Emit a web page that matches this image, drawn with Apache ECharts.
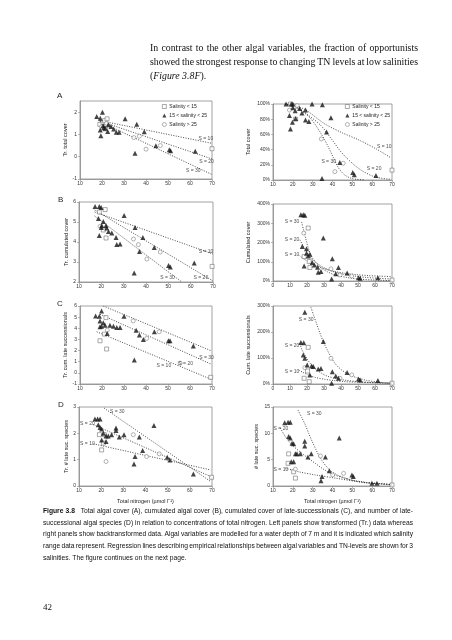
<!DOCTYPE html>
<html><head><meta charset="utf-8">
<script src="https://cdn.jsdelivr.net/npm/echarts@6/dist/echarts.min.js"></script>
<style>html,body{margin:0;padding:0;background:#fff}#c{width:452px;height:640px}</style>
</head><body><div id="c"></div>
<script>
// ---------- DATA ----------
const legendNames = ['Salinity < 15', '15 < salinity < 25', 'Salinity > 25'];
// Panel A left: Tr. total cover
const aL_sq = [[19.0,1.45],[20.5,1.52],[21.2,1.62],[22.3,1.7],[21.5,1.25],[70,0.36]];
const aL_tri = [[17.6,1.8],[19.2,1.73],[20.2,2.0],[19.5,0.94],[19.2,1.2],[20.5,1.4],[21.5,1.28],[22.6,1.13],[22.9,1.43],[24.1,1.36],[25.3,1.24],[26.5,1.1],[27.8,1.1],[30.5,1.7],[35.8,1.46],[35.0,0.16],[39.2,1.12],[44.5,0.49],[50.6,0.31],[51.2,0.27],[62.4,0.24],[20.8,1.3]];
const aL_cir = [[19.8,1.35],[22,1.5],[34.5,0.86],[37,0.92],[40,0.34],[46.5,0.5]];
const aL_s10 = [[19,1.62],[70,0.6]];
const aL_s20 = [[19,1.6],[70,-0.1]];
const aL_s30 = [[19,1.58],[70,-0.8]];
const aL_lab = [[63.9,0.82,'S = 10'],[64.2,-0.21,'S = 20'],[58.2,-0.63,'S = 30']];
// Panel A right: Total cover (%)
const aR_sq = [[18.8,100],[21.4,80],[21.2,97],[70,13]];
const aR_tri = [[16.6,100],[19.2,100],[20,100],[18.3,85],[18.8,67],[20,95],[21.2,91],[21.4,81],[23.4,94],[24.6,88],[26.4,92],[26.4,79],[28.1,77],[29.7,100],[34.9,99],[39.2,82],[37,63],[34.7,2],[43.7,23],[50.2,10],[51,7],[61.9,6],[19.8,76]];
const aR_cir = [[18.3,92],[22.2,98],[34.4,54],[41.2,11],[45.4,22]];
const aR_s10 = [[16,100],[20,98],[26,93],[36,74],[45,62],[53,53],[62,41],[69.5,29]];
const aR_s20 = [[16,100],[22,96],[28,85],[34.4,71],[40,52],[44.6,36],[50,22],[55,12],[61.5,4],[69,1]];
const aR_s30 = [[16,100],[22,95],[26,88],[29.3,80],[34,62],[37.8,44],[40.5,29],[43,16],[46,7],[49.7,2],[56,0]];
const aR_lab = [[62.4,44,'S = 10'],[57.3,15,'S = 20'],[34.4,24,'S = 30']];
// Panel B left: Tr. cumulated cover
const bL_sq = [[21.7,5.62],[19.1,5.5],[22.1,4.2],[20.9,4.6],[69.6,2.78]];
const bL_tri = [[17.2,5.78],[19.1,5.78],[19.9,5.73],[18.7,5.17],[19.1,4.33],[20.2,4.83],[20.9,5.03],[20.0,4.73],[22.1,4.83],[22.4,4.7],[23.2,4.53],[24.7,4.45],[26.6,4.23],[26.9,3.87],[28.4,3.9],[30.2,5.33],[35.1,4.73],[34.7,2.45],[37.1,3.53],[38.6,4.23],[43.7,3.73],[50.1,2.83],[50.9,2.75],[61.6,2.95]];
const bL_cir = [[19.4,4.78],[34.4,4.15],[36.6,3.87],[40.4,3.15],[46.4,3.5]];
const bL_s10 = [[17,5.5],[70,3.4]];
const bL_s20 = [[17,5.6],[70,2.05]];
const bL_s30 = [[17,5.3],[56,2.0]];
const bL_lab = [[63.6,3.53,'S = 10'],[61.3,2.23,'S = 20'],[46.4,2.23,'S = 30']];
// Panel B right: Cumulated cover (%)
const bR_sq = [[20.7,275],[18.3,127],[21.3,101],[21.7,70],[70,5]];
const bR_tri = [[16.4,344],[17.8,344],[18.7,341],[17.2,179],[19.7,167],[18.3,78],[20.7,130],[19.7,144],[21.7,139],[23.1,96],[24.3,83],[26.2,71],[26.6,45],[28.2,49],[29.6,223],[34.9,115],[34.5,10],[36.9,38],[38.5,70],[43.6,42],[50.3,17],[51.3,14],[61.7,17]];
const bR_cir = [[18.1,249],[34.1,63],[39.4,31],[46.3,26]];
const bR_s10 = [[15.2,136],[17.5,118],[20.7,101],[25,80],[30.6,63],[36,50],[42.4,40],[49,33],[56.2,28],[63,25],[70,23]];
const bR_s20 = [[15.8,214],[17.5,185],[19.7,153],[22,122],[24.7,101],[27.5,82],[30.6,66],[35,50],[40.4,37],[47,27],[54.2,19],[62,14],[70,10]];
const bR_s30 = [[16.8,306],[18,265],[19.7,205],[21,165],[22.7,127],[25,98],[28.6,66],[32,48],[36.5,31],[43,19],[50.3,10],[60,5],[70,2]];
const bR_lab = [[6.9,136,'S = 10'],[6.9,214,'S = 20'],[6.9,306,'S = 30']];
// Panel C left: Tr. cum. late successionals
const cL_sq = [[21.8,4.96],[19.1,2.88],[22.1,2.14],[21.1,3.48],[69.4,-0.4]];
const cL_tri = [[17.1,5.11],[18.8,5.08],[19.8,5.55],[19.1,4.66],[20.6,4.49],[19.1,4.13],[19.8,4.19],[21.4,4.28],[22.4,3.54],[23.6,4.28],[25.2,4.19],[26.7,4.07],[28.2,4.07],[30,5.08],[35.5,3.83],[34.7,1.16],[37,3.39],[38.8,3.0],[43.8,3.69],[50.2,2.88],[50.9,2.88],[61.5,2.41]];
const cL_cir = [[22.4,3.83],[34.2,4.66],[40.3,3.09],[46,3.69],[55.5,0.87]];
const cL_s10 = [[17.6,3.69],[69.4,-0.56]];
const cL_s20 = [[19.1,5.26],[69.4,0.8]];
const cL_s30 = [[20.6,6.0],[69.4,2.0]];
const cL_lab = [[44.8,0.63,'S = 10'],[54.7,0.87,'S = 20'],[64.2,1.4,'S = 30']];
// Panel C right: Cum. late successionals (%)
const cR_sq = [[20.7,141],[18.3,22],[21.3,9],[20.3,50],[70,3]];
const cR_tri = [[18.7,276],[16.4,160],[18.1,159],[17.8,112],[18.7,99],[20.1,73],[22.7,69],[23.7,67],[26.6,58],[28.2,60],[29.6,163],[34.9,47],[34.5,3],[36.9,31],[38.5,22],[43.6,44],[50.3,19],[51.3,15],[61.7,13],[21.7,35]];
const cR_cir = [[18.7,63],[34.1,99],[39.4,22],[46.3,35]];
const cR_s10 = [[15.2,54],[17.5,45],[20.7,35],[25,25],[30.6,18],[36,13],[42.4,9],[50,7],[60.2,5],[70,3]];
const cR_s20 = [[15.8,156],[17,132],[18.7,112],[20.5,92],[22.7,73],[25.5,55],[28.6,41],[32,30],[36.5,22],[43,14],[50.3,9],[60,5],[70,3]];
const cR_s30 = [[22.3,295],[24,262],[25.6,233],[27.5,198],[29.6,163],[32,130],[34.5,99],[37,75],[40.4,54],[45,35],[50.3,22],[55,14],[60.2,9],[65,5],[70,3]];
const cR_lab = [[6.9,47,'S = 10'],[6.9,147,'S = 20'],[15.2,249,'S = 30']];
// Panel D left: Tr. # late suc. species
const dL_sq = [[19.2,1.95],[21,1.63],[20.2,1.37],[21.4,1.95],[69.8,0.33]];
const dL_tri = [[17.2,2.54],[18.4,2.54],[19.5,2.54],[18.7,2.33],[19.5,2.22],[20.2,2.16],[21,2.0],[22.2,1.9],[23.2,1.9],[24.7,1.95],[26.7,2.2],[26.7,2.11],[28.2,1.86],[30.3,1.95],[35.3,1.12],[34.8,0.84],[37.2,1.86],[38.7,1.35],[43.8,2.3],[49.8,1.09],[51,0.99],[61.6,0.46],[20.2,1.75],[22.2,1.69]];
const dL_cir = [[22.2,0.93],[34.5,1.95],[40.5,1.12],[46.2,1.22]];
const dL_s10 = [[16.5,1.6],[69.4,0.61]];
const dL_s20 = [[16.5,2.33],[69.4,0.36]];
const dL_s30 = [[21.3,2.96],[69.4,0.17]];
const dL_lab = [[10.5,1.6,'S = 10'],[10.5,2.35,'S = 20'],[24,2.81,'S = 30']];
// Panel D right: # late suc. species
const dR_sq = [[17.9,6.1],[17.6,4.3],[20.4,2.7],[21.3,1.5],[70,0.2]];
const dR_tri = [[15.9,12],[17.6,12.1],[18.7,12.1],[17.9,9.4],[18.7,9.1],[19.6,8.1],[20.4,8.0],[21.3,6.1],[22.1,6.1],[23.8,6.1],[19.2,4.6],[20.4,4.6],[26,8.5],[26,7.6],[27.6,5.5],[29.3,6.1],[34.2,1.0],[34.7,1.8],[36.4,5.5],[38.4,2.9],[43.4,9.1],[49.8,2.1],[50.5,1.8],[59.9,0.5],[62.4,0.5]];
const dR_cir = [[21.3,3.2],[33.9,5.7],[40.1,2.1],[45.6,2.4]];
const dR_s10 = [[16.2,3.4],[22.9,2.7],[31.3,2.1],[41.4,1.5],[53.2,0.8],[63.3,0.5],[70,0.3]];
const dR_s20 = [[13.7,11],[16.2,9.4],[19.6,7.8],[24.6,6.2],[31.3,4.3],[35,3.3],[39.7,2.3],[45,1.6],[49.8,1.1],[55,0.8],[59.9,0.5],[70,0.25]];
const dR_s30 = [[22.6,14.4],[24.5,13],[26.3,11.6],[28,10],[29.7,8.5],[31.8,6.8],[33.9,5.3],[36.5,3.9],[39.7,2.7],[43,2],[46.5,1.5],[51,1],[56.6,0.6],[65,0.4],[70,0.2]];
const dR_lab = [[10.3,3.2,'S = 10'],[10.3,10.8,'S = 20'],[27.1,13.7,'S = 30']];

const yNames = ['Tr. total cover','Total cover','Tr. cumulated cover','Cumulated cover','Tr. cum. late successionals','Cum. late successionals','Tr. # late suc. species','# late suc. species'];
const xName = 'Total nitrogen (\u00b5mol l\u207b\u00b9)';
const panelLetters = ['A','B','C','D'];
const paraLines = ['In contrast to the other algal variables, the fraction of opportunists','showed the strongest response to changing TN levels at low salinities'];
const paraLast = ['(', 'Figure 3.8F', ').'];
const captionLines = [
 'Figure 3.8 Total algal cover (A), cumulated algal cover (B), cumulated cover of late-successionals (C), and number of late-',
 'successional algal species (D) in relation to concentrations of total nitrogen. Left panels show transformed (Tr.) data whereas',
 'right panels show backtransformed data. Algal variables are modelled for a water depth of 7 m and it is indicated which salinity',
 'range data represent. Regression lines describing empirical relationships between algal variables and TN-levels are shown for 3',
 'salinities. The figure continues on the next page.'];
const pageNumber = '42';

// ---------- LAYOUT ----------
const SANS = "'Liberation Sans', Arial, sans-serif";
const SERIF = "'Liberation Serif', 'Times New Roman', serif";
const panels = [
 {box:[80,101,132,78], x:[10,70], y:[-1,2.5,1], pct:false, d:[aL_sq,aL_tri,aL_cir,aL_s10,aL_s20,aL_s30,aL_lab], smooth:false, gap:10},
 {box:[273,104,119,76], x:[10,70], y:[0,100,20], pct:true, d:[aR_sq,aR_tri,aR_cir,aR_s10,aR_s20,aR_s30,aR_lab], smooth:0.3, gap:22},
 {box:[79,202,134,80], x:[10,70], y:[2,6,1], pct:false, d:[bL_sq,bL_tri,bL_cir,bL_s10,bL_s20,bL_s30,bL_lab], smooth:false, gap:10},
 {box:[273,204,119,77], x:[0,70], y:[0,400,100], pct:true, d:[bR_sq,bR_tri,bR_cir,bR_s10,bR_s20,bR_s30,bR_lab], smooth:0.3, gap:22},
 {box:[80,306,132,78], x:[10,70], y:[-1,6,1], pct:false, d:[cL_sq,cL_tri,cL_cir,cL_s10,cL_s20,cL_s30,cL_lab], smooth:false, gap:10},
 {box:[273,306,119,78], x:[0,70], y:[0,300,100], pct:true, d:[cR_sq,cR_tri,cR_cir,cR_s10,cR_s20,cR_s30,cR_lab], smooth:0.3, gap:22},
 {box:[79,407,133,79], x:[10,70], y:[0,3,1], pct:false, d:[dL_sq,dL_tri,dL_cir,dL_s10,dL_s20,dL_s30,dL_lab], smooth:false, gap:10},
 {box:[273,407,119,79], x:[10,70], y:[0,15,5], pct:false, d:[dR_sq,dR_tri,dR_cir,dR_s10,dR_s20,dR_s30,dR_lab], smooth:0.3, gap:14}
];
const AX = '#8a8a8a';
const SQ_STYLE = {color:'#fff', borderColor:'#666', borderWidth:0.7};
const TRI_STYLE = {color:'#151515'};
const CIR_STYLE = {color:'#fff', borderColor:'#777', borderWidth:0.7};
const grid=[], xAxis=[], yAxis=[], series=[];
panels.forEach((p,i)=>{
  grid.push({left:p.box[0], top:p.box[1], width:p.box[2], height:p.box[3], show:true, borderColor:AX, borderWidth:0.8, backgroundColor:'transparent'});
  const lbl = {fontSize:5, color:'#333', fontFamily:SANS};
  xAxis.push({gridIndex:i, type:'value', min:p.x[0], max:p.x[1], interval:10,
    axisLine:{show:true, onZero:false, lineStyle:{color:AX, width:0.8}},
    axisTick:{show:true, length:2, lineStyle:{color:AX, width:0.6}},
    axisLabel:Object.assign({margin:2}, lbl), splitLine:{show:false},
    name: i>=6 ? xName : '', nameLocation:'middle', nameGap:12,
    nameTextStyle:{fontSize:5.5, color:'#222', fontFamily:SANS}});
  yAxis.push({gridIndex:i, type:'value', min:p.y[0], max:p.y[1], interval:p.y[2],
    axisLine:{show:true, onZero:false, lineStyle:{color:AX, width:0.8}},
    axisTick:{show:true, length:2, lineStyle:{color:AX, width:0.6}},
    axisLabel:Object.assign({margin:3, showMaxLabel: (p.y[1]-p.y[0])%p.y[2]===0, formatter: p.pct ? '{value}%' : '{value}'}, lbl),
    splitLine:{show:false},
    name: yNames[i], nameLocation:'middle', nameGap:p.gap,
    nameTextStyle:{fontSize:5.5, color:'#222', fontFamily:SANS}});
  const dl = {color:'#333', width:0.9, type:[1,1.5]};
  [3,4,5].forEach(k=>series.push({type:'line', xAxisIndex:i, yAxisIndex:i, data:p.d[k], symbol:'none', smooth:p.smooth, lineStyle:dl, silent:true, z:2, animation:false}));
  series.push({name:legendNames[0], type:'scatter', xAxisIndex:i, yAxisIndex:i, data:p.d[0], symbol:'rect', symbolSize:4, itemStyle:SQ_STYLE, z:3});
  series.push({name:legendNames[1], type:'scatter', xAxisIndex:i, yAxisIndex:i, data:p.d[1], symbol:'triangle', symbolSize:5, itemStyle:TRI_STYLE, z:4});
  series.push({name:legendNames[2], type:'scatter', xAxisIndex:i, yAxisIndex:i, data:p.d[2], symbol:'circle', symbolSize:4, itemStyle:CIR_STYLE, z:3});
  series.push({name:'lab'+i, type:'scatter', xAxisIndex:i, yAxisIndex:i, symbolSize:0.01, itemStyle:{color:'rgba(0,0,0,0)'}, silent:true, z:5,
    data:p.d[6].map(d=>({value:[d[0],d[1]], name:d[2]})),
    label:{show:true, formatter:'{b}', position:'right', distance:0, fontSize:5, color:'#222', fontFamily:SANS}});
});

// ---------- TEXT (graphic) ----------
const cv = document.createElement('canvas').getContext('2d');
function tw(t, size, fam, weight, style){ cv.font=(style||'normal')+' '+(weight||'normal')+' '+size+'px '+fam; return cv.measureText(t).width; }
const graphic = [];
function justifyLine(words, x, y, width, size, fam, justify){
  const widths = words.map(o=>tw(o.t,size,fam,o.w,o.s));
  const total = widths.reduce((a,b)=>a+b,0);
  const sp = tw(' ',size,fam);
  let gapW = justify && words.length>1 ? (width-total)/(words.length-1) : sp;
  if (gapW < sp*0.6) gapW = sp*0.6;
  let cx = x;
  words.forEach((o,k)=>{
    graphic.push({type:'text', x:cx, y:y, silent:true, style:{text:o.t, fontSize:size, fontFamily:fam, fontWeight:o.w||'normal', fontStyle:o.s||'normal', fill:'#111', verticalAlign:'middle', align:'left'}});
    cx += widths[k] + gapW;
  });
}
// paragraph
const pSize = 8.2*268/tw(paraLines[0],8.2,SERIF)*0.97;
paraLines.forEach((l,k)=>justifyLine(l.split(' ').map(t=>({t})), 150, 48+14*k, 268, pSize, SERIF, true));
{ let cx=150; paraLast.forEach((t,k)=>{ const st = k===1?'italic':'normal';
  graphic.push({type:'text', x:cx, y:76, silent:true, style:{text:t, fontSize:pSize, fontFamily:SERIF, fontStyle:st, fill:'#111', verticalAlign:'middle'}});
  cx += tw(t,pSize,SERIF,'normal',st); }); }
// caption
const cSize = 6.4*360/tw(captionLines[0],6.4,SANS);
captionLines.forEach((l,k)=>{
  const words = l.split(' ').map((t,j)=>({t, w:(k===0&&j<2)?'bold':'normal'}));
  if (k===0) words[1].t = '3.8  ';
  justifyLine(words, 43, 511+11.7*k, 370, cSize, SANS, k<4);
});
// page number
graphic.push({type:'text', x:43, y:608, silent:true, style:{text:pageNumber, fontSize:9, fontFamily:SERIF, fill:'#111', verticalAlign:'middle'}});
// panel letters
[[57,96],[58,200],[57,304],[58,405]].forEach((q,k)=>graphic.push({type:'text', x:q[0], y:q[1], silent:true, style:{text:panelLetters[k], fontSize:8, fontFamily:SANS, fill:'#222', verticalAlign:'middle'}}));

const legendItems = [
  {name:legendNames[0], icon:'rect', itemStyle:SQ_STYLE},
  {name:legendNames[1], icon:'triangle', itemStyle:TRI_STYLE},
  {name:legendNames[2], icon:'circle', itemStyle:CIR_STYLE}];
const legendBase = {orient:'vertical', itemWidth:4, itemHeight:4, itemGap:4, padding:0, selectedMode:false,
  textStyle:{fontSize:5, color:'#222', fontFamily:SANS, padding:[0,0,0,-2]}, data:legendItems};
const chart = echarts.init(document.getElementById('c'), null, {renderer:'canvas', width:452, height:640});
chart.setOption({
  animation:false, backgroundColor:'#fff',
  grid, xAxis, yAxis, series, graphic,
  legend:[Object.assign({left:162, top:104}, legendBase), Object.assign({left:345, top:104}, legendBase)]
});
</script></body></html>
